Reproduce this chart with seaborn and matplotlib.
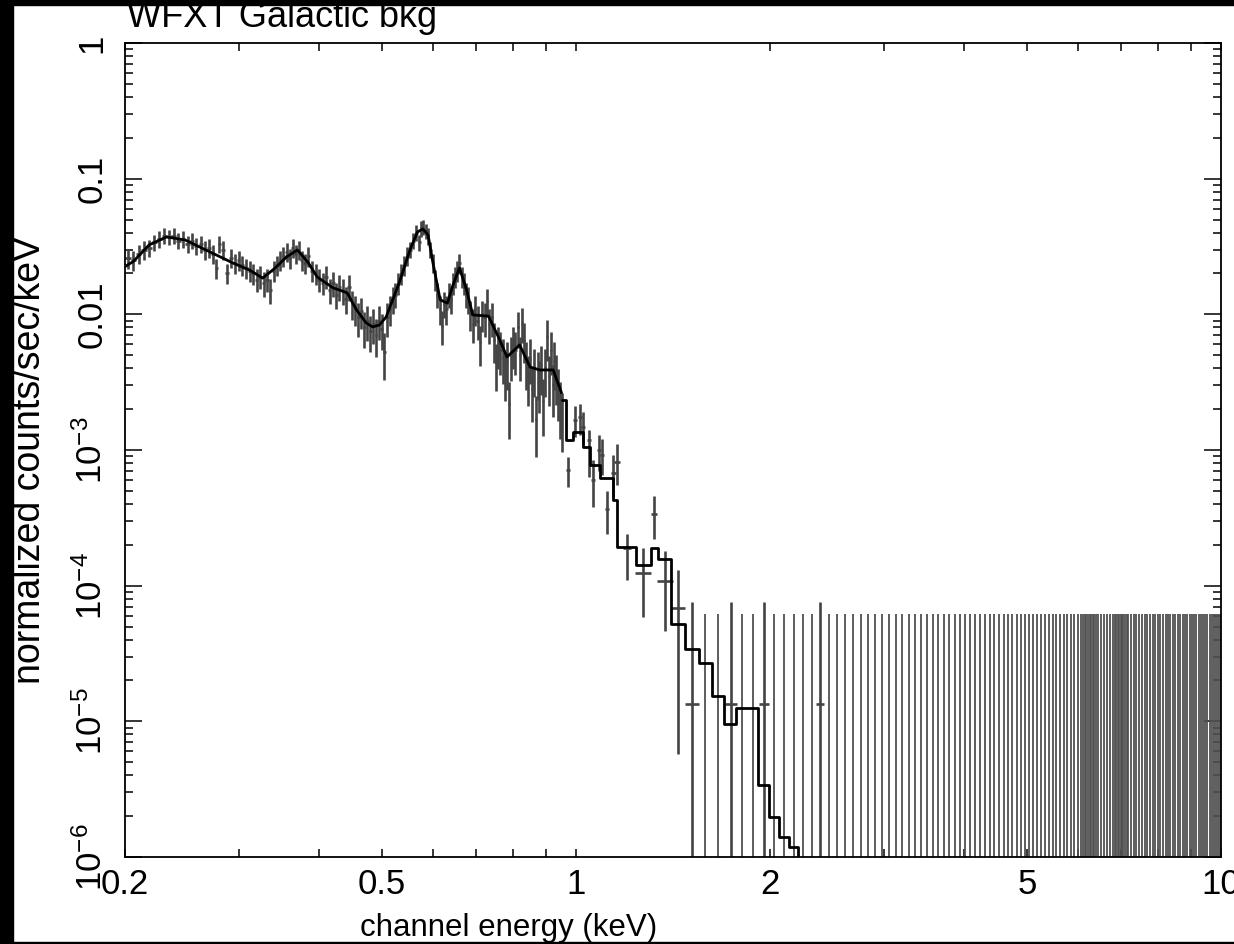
import numpy as np
import matplotlib
matplotlib.use("Agg")
import matplotlib.pyplot as plt
from matplotlib.patches import Rectangle
from matplotlib.ticker import FixedLocator, FixedFormatter, NullFormatter
import seaborn as sns

# ---------------- data ----------------
TITLE = "WFXT Galactic bkg"
XLABEL = "channel energy (keV)"
YLABEL = "normalized counts/sec/keV"

x_major = [0.2, 0.5, 1, 2, 5, 10]
x_major_labels = ["0.2", "0.5", "1", "2", "5", "10"]
x_minor = [0.3, 0.4, 0.6, 0.7, 0.8, 0.9, 3, 4, 6, 7, 8, 9]
y_major = [1e-6, 1e-5, 1e-4, 1e-3, 1e-2, 1e-1, 1]
y_major_labels = [r"$\mathregular{10^{-6}}$", r"$\mathregular{10^{-5}}$", r"$\mathregular{10^{-4}}$",
                  r"$\mathregular{10^{-3}}$", "0.01", "0.1", "1"]

# dense low-energy spectrum: energy (keV), rate (1e-3 counts/s/keV), relative error
lo_e = [0.202, 0.206, 0.210, 0.214, 0.218, 0.222, 0.226, 0.230, 0.234, 0.238,
        0.242, 0.246, 0.250, 0.254, 0.258, 0.262, 0.266, 0.270, 0.274, 0.277,
        0.280, 0.284, 0.288, 0.292, 0.296, 0.300, 0.304, 0.308, 0.312, 0.316,
        0.320, 0.324, 0.328, 0.332, 0.336, 0.340, 0.344, 0.348, 0.352, 0.356,
        0.360, 0.364, 0.368, 0.372, 0.376, 0.380, 0.385, 0.390, 0.395, 0.400,
        0.405, 0.410, 0.415, 0.420, 0.425, 0.430, 0.435, 0.440, 0.445, 0.450,
        0.455, 0.460, 0.465, 0.470, 0.475, 0.480, 0.485, 0.490, 0.495, 0.500,
        0.505, 0.510, 0.515, 0.520, 0.525, 0.530, 0.536, 0.542, 0.548, 0.554,
        0.560, 0.566, 0.572, 0.576, 0.580, 0.585, 0.590, 0.595, 0.600, 0.605,
        0.610, 0.615, 0.620, 0.625, 0.630, 0.635, 0.640, 0.645, 0.650, 0.655,
        0.660, 0.665, 0.670, 0.675, 0.680, 0.686, 0.692, 0.698, 0.704, 0.710,
        0.716, 0.722, 0.728, 0.734, 0.740, 0.746, 0.752, 0.758, 0.764, 0.770,
        0.776, 0.782, 0.788, 0.794, 0.800, 0.806, 0.812, 0.818, 0.824, 0.830,
        0.836, 0.842, 0.848, 0.854, 0.860, 0.866, 0.872, 0.878, 0.884, 0.890,
        0.896, 0.902, 0.908, 0.914, 0.920, 0.926, 0.932, 0.938, 0.944, 0.950]
lo_rate = [26, 25, 28, 30, 31, 34, 36, 38, 37, 38,
           35, 36, 33, 35, 32, 33, 30, 31, 28, 22,
           33, 30, 20, 26, 24, 25, 23, 22, 21, 20,
           18, 19, 17, 18, 15, 21, 23, 25, 27, 29,
           26, 31, 28, 30, 25, 24, 27, 21, 20, 18,
           17, 19, 15, 17, 14, 16, 15, 13, 16, 12,
           11, 9.5, 10.5, 8.0, 9.0, 7.5, 8.5, 7.0, 9.0, 7.8,
           5.3, 9.5, 11, 13, 14, 17, 20, 23, 27, 30,
           35, 40, 34, 43, 44, 41, 38, 30, 24, 18,
           14, 11, 8.2, 12, 11, 14, 13, 17, 19, 21,
           24, 19, 17, 14, 13, 10, 8.5, 11, 9.0, 6.2,
           10, 9.5, 12.5, 8.5, 9.5, 6.5, 4.4, 6.0, 5.5, 4.8,
           3.8, 4.5, 2.2, 5.0, 6.0, 5.5, 8.0, 5.0, 8.6, 6.5,
           4.5, 3.5, 4.8, 2.8, 4.0, 1.7, 3.8, 3.2, 4.2, 2.3,
           4.0, 6.8, 3.5, 5.5, 3.0, 4.5, 3.6, 2.8, 2.2, 1.8]
lo_relerr = [.17, .17, .16, .16, .14, .14, .14, .13, .13, .13,
             .14, .14, .14, .14, .14, .14, .16, .16, .16, .17,
             .14, .16, .17, .16, .17, .17, .17, .17, .18, .18,
             .19, .19, .21, .19, .21, .18, .17, .17, .17, .16,
             .17, .16, .16, .16, .17, .17, .17, .18, .18, .19,
             .19, .19, .21, .21, .22, .21, .22, .22, .21, .24,
             .25, .28, .26, .30, .29, .30, .29, .31, .28, .30,
             .38, .28, .25, .22, .21, .19, .18, .17, .16, .14,
             .14, .13, .14, .13, .13, .13, .14, .14, .16, .18,
             .21, .24, .28, .22, .24, .21, .22, .19, .18, .18,
             .17, .18, .19, .21, .22, .25, .28, .25, .28, .33,
             .26, .28, .24, .29, .28, .33, .38, .34, .35, .36,
             .40, .38, .45, .36, .34, .35, .30, .36, .29, .33,
             .38, .40, .36, .43, .39, .48, .39, .41, .39, .45,
             .39, .33, .40, .35, .42, .38, .40, .42, .45, .46]

# sparser points 0.97 - 1.45 keV: energy, rate, lower and upper bound, half bin width
mid_e = [0.972, 0.997, 1.015, 1.026, 1.048, 1.063, 1.086, 1.098, 1.117, 1.142,
         1.159, 1.200, 1.271, 1.322, 1.375, 1.441]
mid_rate = [7.1e-4, 1.67e-3, 1.75e-3, 1.48e-3, 1.19e-3, 6.0e-4, 1.0e-3, 9.2e-4, 3.7e-4, 6.8e-4,
            8.2e-4, 1.9e-4, 1.24e-4, 3.4e-4, 1.08e-4, 6.86e-5]
mid_lo = [5.3e-4, 1.25e-3, 1.3e-3, 1.1e-3, 6.3e-4, 3.8e-4, 7.0e-4, 6.5e-4, 2.4e-4, 4.5e-4,
          5.5e-4, 1.1e-4, 5.9e-5, 2.2e-4, 4.6e-5, 5.7e-6]
mid_hi = [8.9e-4, 2.1e-3, 2.2e-3, 1.9e-3, 1.4e-3, 8.4e-4, 1.3e-3, 1.2e-3, 5.0e-4, 9.2e-4,
          1.1e-3, 2.4e-4, 1.9e-4, 4.6e-4, 1.8e-4, 1.3e-4]
mid_dx = [0.006, 0.006, 0.006, 0.006, 0.007, 0.007, 0.008, 0.008, 0.009, 0.010,
          0.012, 0.018, 0.035, 0.015, 0.037, 0.037]

# single-count channels
sc_e = [1.514, 1.740, 1.957, 2.391]
sc_rate = [1.35e-5, 1.35e-5, 1.35e-5, 1.35e-5]
sc_hi = [7.6e-5, 7.6e-5, 7.6e-5, 7.6e-5]
sc_dx = [0.037, 0.037, 0.037, 0.037]

# zero-count channels (upper error bar only)
ul_e = [1.588, 1.661, 1.808, 1.882, 2.029, 2.102, 2.176, 2.249, 2.323, 2.470,
        2.543, 2.617, 2.690, 2.764, 2.837, 2.911, 2.984, 3.058, 3.131, 3.205,
        3.278, 3.352, 3.425, 3.499, 3.572, 3.646, 3.719, 3.793, 3.866, 3.940,
        4.013, 4.087, 4.160, 4.234, 4.307, 4.381, 4.454, 4.528, 4.601, 4.675,
        4.748, 4.822, 4.895, 4.969, 5.042, 5.116, 5.189, 5.263, 5.336, 5.410,
        5.483, 5.557, 5.630, 5.704, 5.777, 5.851, 5.924, 5.998, 6.071, 6.110,
        6.145, 6.180, 6.218, 6.255, 6.292, 6.330, 6.365, 6.400, 6.439, 6.512,
        6.586, 6.659, 6.733, 6.806, 6.840, 6.880, 6.920, 6.953, 6.990, 7.027,
        7.060, 7.100, 7.140, 7.174, 7.247, 7.321, 7.394, 7.468, 7.541, 7.615,
        7.688, 7.762, 7.835, 7.909, 7.982, 8.056, 8.129, 8.203, 8.276, 8.350,
        8.423, 8.497, 8.570, 8.644, 8.717, 8.791, 8.864, 8.938, 9.011, 9.085,
        9.158, 9.232, 9.305, 9.379, 9.452, 9.526, 9.599, 9.673, 9.746, 9.820,
        9.893, 9.967]
ul_top = 6.2e-5

# model: smooth part (0.2 - 0.95 keV)
model_e = [0.200, 0.206, 0.218, 0.232, 0.248, 0.261, 0.294, 0.312, 0.327, 0.342,
           0.356, 0.370, 0.384, 0.397, 0.420, 0.442, 0.457, 0.473, 0.484, 0.496,
           0.508, 0.532, 0.553, 0.568, 0.579, 0.590, 0.600, 0.616, 0.632, 0.645,
           0.660, 0.677, 0.692, 0.732, 0.762, 0.782, 0.818, 0.849, 0.879, 0.922,
           0.950]
model_v = [0.0225, 0.0245, 0.0325, 0.0372, 0.0353, 0.0314, 0.0239, 0.0212, 0.0185, 0.0220,
           0.0265, 0.0298, 0.0243, 0.0189, 0.0157, 0.0144, 0.0108, 0.00865, 0.00807, 0.00835,
           0.00957, 0.0170, 0.0298, 0.0405, 0.0426, 0.0385, 0.0243, 0.0128, 0.0121, 0.0165,
           0.0220, 0.0151, 0.0099, 0.0097, 0.00648, 0.00485, 0.00595, 0.00409, 0.00389, 0.00389,
           0.00264]
# model: stepped part (left bin edges and values)
step_e = [0.950, 0.964, 0.990, 1.026, 1.050, 1.090, 1.140, 1.160, 1.240, 1.308,
          1.341, 1.404, 1.478, 1.551, 1.625, 1.698, 1.771, 1.918, 1.992, 2.065,
          2.139, 2.212, 2.400]
step_v = [2.34e-3, 1.19e-3, 1.36e-3, 1.05e-3, 7.8e-4, 6.2e-4, 4.3e-4, 1.93e-4, 1.42e-4, 1.90e-4,
          1.57e-4, 5.2e-5, 3.42e-5, 2.70e-5, 1.54e-5, 9.6e-6, 1.26e-5, 3.4e-6, 1.98e-6, 1.41e-6,
          1.19e-6, 5e-7, 5e-7]

# ---------------- style ----------------
sns.set_theme(style="ticks")
plt.rcParams["font.family"] = ["Liberation Sans", "DejaVu Sans"]
plt.rcParams["mathtext.fontset"] = "custom"
plt.rcParams["mathtext.rm"] = "Liberation Sans"
plt.rcParams["mathtext.it"] = "Liberation Sans:italic"
plt.rcParams["mathtext.bf"] = "Liberation Sans:bold"

FS = 25
W, H = 1234, 944
fig = plt.figure(figsize=(W / 100, H / 100), dpi=100, facecolor="white")
ax = fig.add_axes([125 / W, 1 - 857 / H, (1221 - 125) / W, (857 - 43) / H])
ax.set_facecolor("white")
ax.set_xscale("log")
ax.set_yscale("log")

DATA_COL = "#444444"
ELW = 1.9

# zero-count channels
ax.vlines(ul_e, 1e-7, ul_top, color="#505050", lw=1.3)

# single-count channels
sc_rate_a = np.array(sc_rate)
ax.errorbar(sc_e, sc_rate, yerr=[sc_rate_a - 1e-7, np.array(sc_hi) - sc_rate_a],
            xerr=sc_dx, fmt="none", ecolor=DATA_COL, elinewidth=ELW)

# sparse channels
mid_rate_a = np.array(mid_rate)
ax.errorbar(mid_e, mid_rate, yerr=[mid_rate_a - np.array(mid_lo), np.array(mid_hi) - mid_rate_a],
            xerr=mid_dx, fmt="none", ecolor=DATA_COL, elinewidth=ELW)

# dense channels
lo_e_a = np.array(lo_e)
lo_rate_a = np.array(lo_rate) * 1e-3
lo_err_a = lo_rate_a * np.array(lo_relerr)
lo_dx = np.gradient(lo_e_a) / 2
ax.errorbar(lo_e_a, lo_rate_a, yerr=lo_err_a, xerr=lo_dx, fmt="none",
            ecolor=DATA_COL, elinewidth=ELW)

# model curve
sns.lineplot(x=model_e, y=model_v, ax=ax, color="black", lw=2.0,
             estimator=None, sort=False, zorder=5)
sns.lineplot(x=step_e, y=step_v, ax=ax, color="black", lw=2.0,
             estimator=None, sort=False, drawstyle="steps-post", zorder=5)

ax.set_xlim(0.2, 10)
ax.set_ylim(1e-6, 1)
ax.set_xlabel("")
ax.set_ylabel("")

ax.xaxis.set_major_locator(FixedLocator(x_major))
ax.xaxis.set_major_formatter(FixedFormatter(x_major_labels))
ax.xaxis.set_minor_locator(FixedLocator(x_minor))
ax.xaxis.set_minor_formatter(NullFormatter())
ax.yaxis.set_major_locator(FixedLocator(y_major))
ax.yaxis.set_major_formatter(FixedFormatter(y_major_labels))
ax.yaxis.set_minor_locator(matplotlib.ticker.LogLocator(base=10, subs=np.arange(2, 10), numticks=20))
ax.yaxis.set_minor_formatter(NullFormatter())

ax.tick_params(which="both", direction="in", top=True, right=True, color="black",
               width=1.1, labelsize=FS, labelcolor="black")
ax.tick_params(axis="x", which="both", length=6, pad=8)
ax.tick_params(axis="y", which="major", length=12, pad=12)
ax.tick_params(axis="y", which="minor", length=6)
for lab in ax.get_yticklabels():
    lab.set_rotation(90)
    lab.set_va("center")
    lab.set_ha("right")
for sp in ax.spines.values():
    sp.set_color("black")
    sp.set_linewidth(1.3)

fig.text(127 / W, 1 - 27 / H, TITLE, fontsize=FS + 1, ha="left", va="baseline", color="black")
fig.text(509 / W, 1 - 936 / H, XLABEL, fontsize=22.5, ha="center", va="baseline", color="black")
fig.text(30 / W, 1 - 460 / H, YLABEL, fontsize=27, rotation=90, ha="center", va="center", color="black")

# black frame strips of the original screenshot
for (x0, y0, w, h) in [(0, 0, 13, H), (0, 0, W, 5), (0, H - 2, W, 2)]:
    fig.patches.append(Rectangle((x0 / W, 1 - (y0 + h) / H), w / W, h / H,
                                 transform=fig.transFigure, color="black", zorder=20))

fig.savefig("out.png", dpi=100, facecolor="white")
